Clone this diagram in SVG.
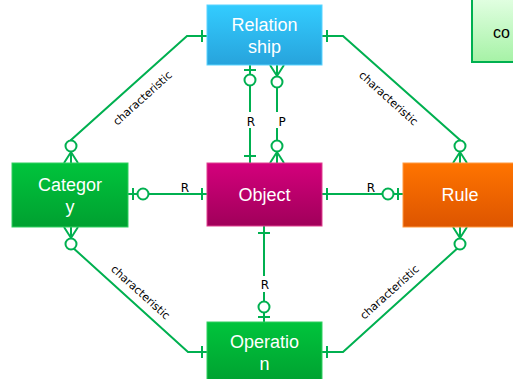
<svg xmlns="http://www.w3.org/2000/svg" xmlns:xlink="http://www.w3.org/1999/xlink" width="513" height="379" viewBox="0 0 513 379">
<style>
.ln{fill:none;stroke:#00b050;stroke-width:2}
.sym{fill:#fff;stroke:#00b050;stroke-width:2}
.nt{font-family:"Liberation Sans",Arial,sans-serif;font-size:18px;fill:#fff;text-anchor:middle}
.lb{font-family:"DejaVu Sans",Verdana,sans-serif;font-size:11px;fill:#000;text-anchor:middle}
.rl{font-family:"DejaVu Sans",Verdana,sans-serif;font-size:12px;fill:#000;text-anchor:middle}
</style>
<defs>
<linearGradient id="gBlue" x1="0" y1="0" x2="0" y2="1"><stop offset="0" stop-color="#33ccff"/><stop offset="1" stop-color="#27a3dc"/></linearGradient>
<linearGradient id="gMag" x1="0" y1="0" x2="0" y2="1"><stop offset="0" stop-color="#d4007c"/><stop offset="1" stop-color="#a0005a"/></linearGradient>
<linearGradient id="gGreen" x1="0" y1="0" x2="0" y2="1"><stop offset="0" stop-color="#00c43c"/><stop offset="1" stop-color="#00a030"/></linearGradient>
<linearGradient id="gOrange" x1="0" y1="0" x2="0" y2="1"><stop offset="0" stop-color="#ff7400"/><stop offset="1" stop-color="#dd5500"/></linearGradient>
<linearGradient id="gLight" x1="0" y1="0" x2="0" y2="1"><stop offset="0" stop-color="#e2ffe2"/><stop offset="1" stop-color="#a6f2a6"/></linearGradient>
<g id="one"><path class="ln" d="M-6,-5H6"/></g>
<g id="one7"><path class="ln" d="M-6,-7H6"/></g>
<g id="zeroOne"><path class="ln" d="M-6,-5H6"/><circle class="sym" cx="0" cy="-15" r="5.5"/></g>
<g id="zeroMany"><path class="ln" d="M-7,0L0,-11L7,0"/><circle class="sym" cx="0" cy="-17" r="5.5"/></g>
</defs>

<g id="connectors">
<path class="ln" d="M207,36H187L71,140V163"/>
<path class="ln" d="M322,36H343L460,140V163"/>
<path class="ln" d="M71,227V246L188,352H207"/>
<path class="ln" d="M460,227V246L343,352H322"/>
<path class="ln" d="M128,194H207"/>
<path class="ln" d="M322,194H403"/>
<path class="ln" d="M250,65V163"/>
<path class="ln" d="M277,65V163"/>
<path class="ln" d="M264,226V322"/>
<use xlink:href="#one" transform="translate(207,36) rotate(-90)"/>
<use xlink:href="#zeroMany" transform="translate(71,163)"/>
<use xlink:href="#one" transform="translate(322,36) rotate(90)"/>
<use xlink:href="#zeroMany" transform="translate(460,163)"/>
<use xlink:href="#zeroMany" transform="translate(71,227) rotate(180)"/>
<use xlink:href="#one" transform="translate(207,352) rotate(-90)"/>
<use xlink:href="#zeroMany" transform="translate(460,227) rotate(180)"/>
<use xlink:href="#one" transform="translate(322,352) rotate(90)"/>
<use xlink:href="#zeroOne" transform="translate(128,194) rotate(90)"/>
<use xlink:href="#one" transform="translate(207,194) rotate(-90)"/>
<use xlink:href="#one" transform="translate(322,194) rotate(90)"/>
<use xlink:href="#zeroOne" transform="translate(403,194) rotate(-90)"/>
<use xlink:href="#zeroOne" transform="translate(250,65) rotate(180)"/>
<use xlink:href="#one7" transform="translate(250,163)"/>
<use xlink:href="#zeroMany" transform="translate(277,65) rotate(180)"/>
<use xlink:href="#zeroMany" transform="translate(277,163)"/>
<use xlink:href="#one7" transform="translate(264,226) rotate(180)"/>
<use xlink:href="#zeroOne" transform="translate(264,322)"/>
<text class="lb" transform="translate(145,101) rotate(-42)">characteristic</text>
<text class="lb" transform="translate(386,101) rotate(42)">characteristic</text>
<text class="lb" transform="translate(138,295) rotate(42)">characteristic</text>
<text class="lb" transform="translate(392,295) rotate(-42)">characteristic</text>
<text class="rl" x="185" y="192">R</text>
<text class="rl" x="371" y="192">R</text>
<rect x="245" y="112" width="11" height="16" fill="#fff"/>
<text class="rl" x="251" y="126">R</text>
<rect x="276" y="112" width="10" height="16" fill="#fff"/>
<text class="rl" x="282" y="126">P</text>
<rect x="259" y="276" width="11" height="16" fill="#fff"/>
<text class="rl" x="265" y="289">R</text>
</g>

<g id="node-relationship">
<rect x="207" y="5" width="115" height="60" fill="url(#gBlue)" stroke="#5ad4ff" stroke-width="1"/>
<text class="nt" x="264.5" y="31">Relation</text>
<text class="nt" x="264.5" y="53">ship</text>
</g>
<g id="node-object">
<rect x="207" y="163" width="115" height="63" fill="url(#gMag)" stroke="#e0408f" stroke-width="1"/>
<text class="nt" x="264.5" y="201">Object</text>
</g>
<g id="node-category">
<rect x="12" y="163" width="116" height="64" fill="url(#gGreen)" stroke="#30d060" stroke-width="1"/>
<text class="nt" x="70" y="191">Categor</text>
<text class="nt" x="70" y="213">y</text>
</g>
<g id="node-rule">
<rect x="403" y="163" width="114" height="64" fill="url(#gOrange)" stroke="#ff9a40" stroke-width="1"/>
<text class="nt" x="460" y="201">Rule</text>
</g>
<g id="node-operation">
<rect x="207" y="322" width="115" height="62" fill="url(#gGreen)" stroke="#30d060" stroke-width="1"/>
<text class="nt" x="264.5" y="348">Operatio</text>
<text class="nt" x="264.5" y="370">n</text>
</g>
<g id="node-co">
<rect x="472" y="-2" width="60" height="64" fill="url(#gLight)" stroke="#00b050" stroke-width="2"/>
<text x="493" y="38" font-family="Liberation Sans,Arial,sans-serif" font-size="16" fill="#000">co</text>
</g>
</svg>
